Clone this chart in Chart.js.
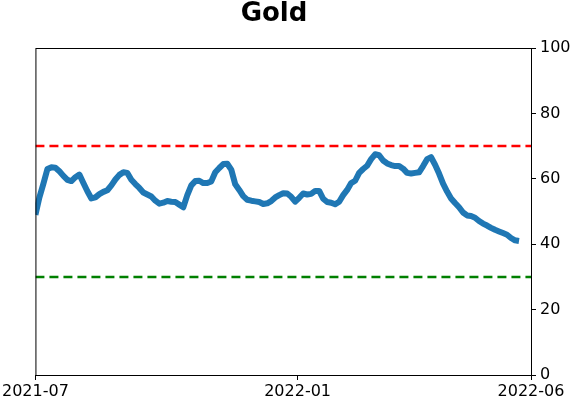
<!DOCTYPE html>
<html>
<head>
<meta charset="utf-8">
<script src="https://cdn.jsdelivr.net/npm/chart.js@4/dist/chart.umd.min.js"></script>
<style>
  html, body { margin: 0; padding: 0; background: #fff; }
  #wrap { width: 571px; height: 402px; }
</style>
</head>
<body>
<div id="wrap"><canvas id="chart"></canvas></div>
<script>
// Gold reading, sampled evenly from 2021-07 to the last date
const goldValues = [
  49, 54.3, 58.5, 63, 63.5, 63.4, 62.3, 60.9, 59.7, 59.3,
  60.5, 61.3, 58.7, 56.2, 54, 54.3, 55.3, 56, 56.5, 58,
  59.8, 61.2, 62, 61.8, 59.7, 58.4, 57.2, 55.8, 55.2, 54.6,
  53.3, 52.4, 52.7, 53.2, 53, 52.9, 52.1, 51.3, 55, 58,
  59.3, 59.4, 58.7, 58.7, 59.2, 62, 63.3, 64.5, 64.6, 62.8,
  58.3, 56.6, 54.7, 53.6, 53.3, 53.1, 52.9, 52.3, 52.5, 53.2,
  54.3, 55, 55.6, 55.5, 54.5, 53, 54.2, 55.5, 55.2, 55.4,
  56.3, 56.3, 53.9, 52.9, 52.7, 52.2, 53, 55, 56.6, 58.7,
  59.4, 61.8, 63, 64, 66, 67.5, 67.2, 65.6, 64.7, 64.2,
  63.9, 63.9, 63.1, 61.8, 61.6, 61.8, 62, 63.9, 66, 66.6,
  64.3, 61.6, 58.5, 56.1, 54, 52.6, 51.3, 49.7, 48.8, 48.6,
  48.1, 47.1, 46.3, 45.7, 45, 44.4, 43.9, 43.4, 42.9, 41.9,
  41.2, 41
];
const xTickLabels = ['2021-07', '2022-01', '2022-06'];
const xTickPositions = [0, 65.6, 124];
const yTicks = [0, 20, 40, 60, 80, 100];
const upperLevel = 70;
const lowerLevel = 30;
const titleText = 'Gold';

const xMax = xTickPositions[xTickPositions.length - 1];

// box round the plot and the title (placed like the original, left of centre)
const frameBox = {
  id: 'frameBox',
  afterDraw(chart) {
    const { ctx, chartArea: a } = chart;
    ctx.save();
    ctx.strokeStyle = '#000';
    ctx.lineWidth = 1;
    ctx.strokeRect(a.left + 0.5, a.top + 0.5, a.right - a.left, a.bottom - a.top);
    ctx.fillStyle = '#000';
    ctx.font = 'bold 26px "DejaVu Sans"';
    ctx.textAlign = 'center';
    ctx.textBaseline = 'middle';
    ctx.fillText(titleText, 274, 14);
    ctx.restore();
  }
};

new Chart(document.getElementById('chart'), {
  type: 'line',
  data: {
    datasets: [
      {
        data: goldValues.map((v, i) => ({ x: i, y: v })),
        borderColor: '#1f77b4',
        borderWidth: 6,
        pointRadius: 0,
        tension: 0,
        borderJoinStyle: 'round',
        borderCapStyle: 'butt',
        order: 1
      },
      {
        data: [{ x: 0, y: upperLevel }, { x: xMax, y: upperLevel }],
        borderColor: '#ff0000',
        borderWidth: 2.5,
        borderDash: [9, 5],
        pointRadius: 0,
        order: 2
      },
      {
        data: [{ x: 0, y: lowerLevel }, { x: xMax, y: lowerLevel }],
        borderColor: '#008000',
        borderWidth: 2.5,
        borderDash: [9, 5],
        pointRadius: 0,
        order: 2
      }
    ]
  },
  options: {
    responsive: true,
    maintainAspectRatio: false,
    animation: false,
    layout: { padding: { left: 35, right: 0, top: 48, bottom: 0 } },
    plugins: {
      legend: { display: false },
      tooltip: { enabled: false },
      title: { display: false }
    },
    scales: {
      x: {
        type: 'linear',
        min: 0,
        max: xMax,
        afterBuildTicks(scale) {
          scale.ticks = xTickPositions.map(v => ({ value: v }));
        },
        afterFit(scale) { scale.height = 27; },
        grid: { drawOnChartArea: false, drawTicks: true, tickLength: 5, color: '#000' },
        border: { display: true, color: '#000' },
        ticks: {
          color: '#000',
          padding: 2,
          maxRotation: 0,
          autoSkip: false,
          font: { family: 'DejaVu Sans', size: 16 },
          callback: (v) => xTickLabels[xTickPositions.indexOf(v)]
        }
      },
      y: {
        position: 'right',
        min: 0,
        max: 100,
        afterBuildTicks(scale) {
          scale.ticks = yTicks.map(v => ({ value: v }));
        },
        afterFit(scale) { scale.width = 40; },
        grid: { drawOnChartArea: false, drawTicks: true, tickLength: 5, color: '#000' },
        border: { display: true, color: '#000' },
        ticks: {
          color: '#000',
          padding: 4,
          font: { family: 'DejaVu Sans', size: 16 }
        }
      }
    }
  },
  plugins: [frameBox]
});
</script>
</body>
</html>
